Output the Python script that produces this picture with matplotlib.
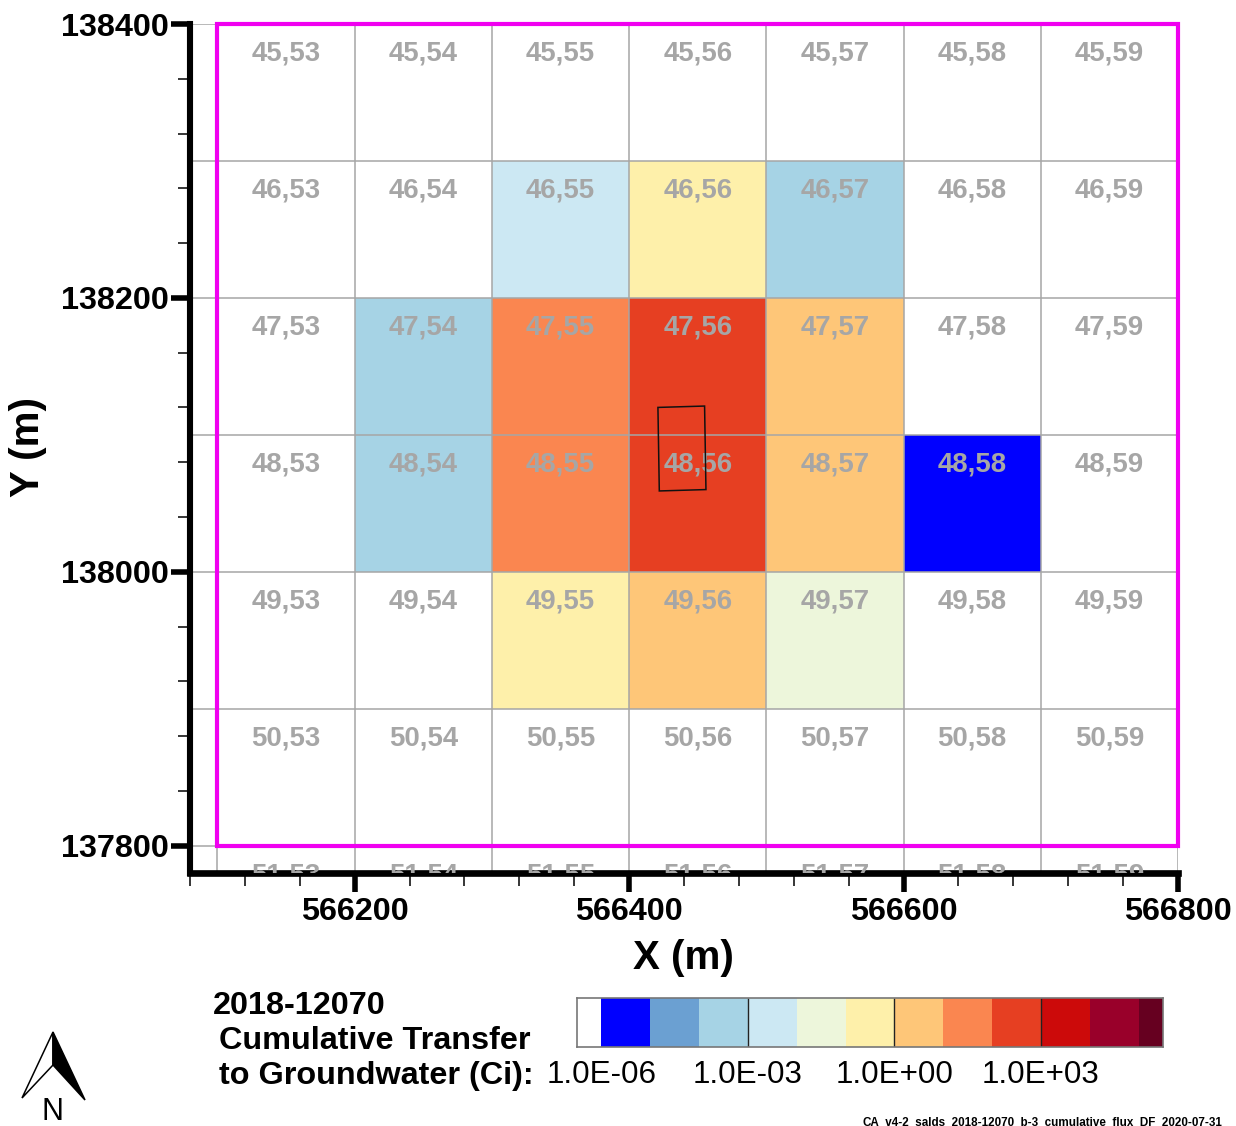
import numpy as np
import matplotlib
matplotlib.use("Agg")
import matplotlib.pyplot as plt
from matplotlib.colors import ListedColormap, BoundaryNorm
from matplotlib.patches import Polygon, Rectangle

plt.rcParams['font.family'] = ['Liberation Sans', 'DejaVu Sans']

W, H = 1236, 1126

# Data
rows = [45, 46, 47, 48, 49, 50, 51]
cols = [53, 54, 55, 56, 57, 58, 59]
x_edges = [566100, 566200, 566300, 566400, 566500, 566600, 566700, 566800]
y_edges = [138400, 138300, 138200, 138100, 138000, 137900, 137800, 137700]
# log10 of cumulative transfer (Ci), nan = below the lowest class
n = np.nan
log_values = [
    [n, n, n, n, n, n, n],
    [n, n, -2.5, -0.5, -3.5, n, n],
    [n, -3.5, 1.5, 2.5, 0.5, n, n],
    [n, -3.5, 1.5, 2.5, 0.5, -5.5, n],
    [n, n, -0.5, 0.5, -1.5, n, n],
    [n, n, n, n, n, n, n],
    [n, n, n, n, n, n, n],
]
levels = [-6.5, -6, -5, -4, -3, -2, -1, 0, 1, 2, 3, 4, 5, 5.5]
colors = ['#FFFFFF', '#0000FF', '#6BA0D2', '#A6D3E5', '#CCE8F3', '#EDF6DB', '#FEF0AA',
          '#FEC678', '#FA8650', '#E63F22', '#CC0A0A', '#99002A', '#660020']
cbar_ticks = [-6, -3, 0, 3]
cbar_labels = ['1.0E-06', '1.0E-03', '1.0E+00', '1.0E+03']
x_major = [566200, 566400, 566600, 566800]
x_minor = [566080, 566120, 566160, 566240, 566280, 566320, 566360, 566440, 566480,
           566520, 566560, 566640, 566680, 566720, 566760]
y_major = [137800, 138000, 138200, 138400]
y_minor = [137840, 137880, 137920, 137960, 138040, 138080, 138120, 138160,
           138240, 138280, 138320, 138360]
source_x = [566421, 566455, 566456, 566422]
source_y = [138120, 138121, 138060, 138059]
domain_x = [566100, 566800, 566800, 566100]
domain_y = [138400, 138400, 137800, 137800]

cmap = ListedColormap(colors)
norm = BoundaryNorm(levels, cmap.N)
GREY = '#A6A6A6'


def axes_px(left, top, right, bottom):
    return [left / W, 1 - bottom / H, (right - left) / W, (bottom - top) / H]


fig = plt.figure(figsize=(W / 100, H / 100), dpi=100, facecolor='white')

# Main map
ax = fig.add_axes(axes_px(190, 24, 1178, 873))
ax.set_xlim(566080, 566800)
ax.set_ylim(137780, 138400)
vals = np.ma.masked_invalid(np.array(log_values))
ax.pcolormesh(x_edges, y_edges, vals, cmap=cmap, norm=norm, zorder=1)
ax.vlines(x_edges, 137780, 138400, color=GREY, lw=1.1, zorder=2)
ax.hlines(y_edges[:-1], 566080, 566800, color=GREY, lw=1.1, zorder=2)

for i, r in enumerate(rows):
    for j, c in enumerate(cols):
        xc = (x_edges[j] + x_edges[j + 1]) / 2
        yc = y_edges[i] - 19.5
        ax.text(xc, yc, f'{r},{c}', color=GREY, fontsize=19.9, fontweight='bold',
                ha='center', va='center_baseline', zorder=3, clip_on=True)

ax.add_patch(Polygon(np.c_[source_x, source_y], closed=True, fill=False,
                     edgecolor='#111111', lw=1.1, zorder=4))
ax.add_patch(Polygon(np.c_[domain_x, domain_y], closed=True, fill=False,
                     edgecolor='#F000F0', lw=3, zorder=5, clip_on=False))

for s in ('top', 'right'):
    ax.spines[s].set_visible(False)
ax.spines['left'].set_linewidth(4.4)
ax.spines['bottom'].set_linewidth(4.8)
ax.spines['left'].set_capstyle('projecting')
ax.spines['bottom'].set_capstyle('projecting')
ax.set_xticks(x_major)
ax.set_xticks(x_minor, minor=True)
ax.set_yticks(y_major)
ax.set_yticks(y_minor, minor=True)
ax.set_xticklabels([str(v) for v in x_major], fontsize=23.3, fontweight='bold')
ax.set_yticklabels([str(v) for v in y_major], fontsize=23.3, fontweight='bold')
ax.tick_params(axis='x', which='major', length=14, width=4, pad=3)
ax.tick_params(axis='y', which='major', length=14, width=4, pad=1)
ax.tick_params(axis='both', which='minor', length=9, width=1.1)
fig.text(683 / W, 1 - 958 / H, 'X (m)', fontsize=29, fontweight='bold', ha='center', va='center')
fig.text(28 / W, 1 - 447 / H, 'Y (m)', fontsize=29, fontweight='bold', ha='center', va='center',
         rotation=90)

# Colour scale
cax = fig.add_axes(axes_px(577, 998, 1163, 1047))
cax.pcolormesh(levels, [0, 1], np.array([[(a + b) / 2 for a, b in zip(levels[:-1], levels[1:])]]),
               cmap=cmap, norm=norm)
cax.set_xlim(levels[0], levels[-1])
cax.set_ylim(0, 1)
cax.set_yticks([])
cax.set_xticks(cbar_ticks[1:])
cax.set_xticklabels([])
cax.tick_params(axis='x', length=0)
cax.vlines(cbar_ticks[1:], 0, 1, color='#222222', lw=1)
for s in cax.spines.values():
    s.set_edgecolor('#777777')
    s.set_linewidth(1.2)
for t, lab in zip(cbar_ticks, cbar_labels):
    px = 577 + (t - levels[0]) / (levels[-1] - levels[0]) * (1163 - 577)
    fig.text(px / W, 1 - 1075 / H, lab, fontsize=22.6, ha='center', va='center')

# Legend title
fig.text(213 / W, 1 - 1006 / H, '2018-12070', fontsize=23.3, fontweight='bold', ha='left', va='center')
fig.text(219 / W, 1 - 1041 / H, 'Cumulative Transfer', fontsize=23.3, fontweight='bold', ha='left', va='center')
fig.text(219 / W, 1 - 1076 / H, 'to Groundwater (Ci):', fontsize=23.3, fontweight='bold', ha='left', va='center')

# Footer
fig.text(1222 / W, 1 - 1126 / H, 'CA_v4-2_salds_2018-12070_b-3_cumulative_flux_DF_2020-07-31',
         fontsize=8.4, fontweight='bold', ha='right', va='baseline')

# North arrow
nax = fig.add_axes([0, 0, 1, 1], facecolor='none')
nax.set_xlim(0, W)
nax.set_ylim(H, 0)
nax.axis('off')
nax.add_patch(Polygon([(53, 1032), (22, 1098), (53, 1065)], closed=True, fc='white', ec='black', lw=1.1))
nax.add_patch(Polygon([(53, 1032), (85, 1100), (53, 1065)], closed=True, fc='black', ec='black', lw=1.1))
nax.text(52, 1112, 'N', fontsize=22, ha='center', va='center')

fig.savefig('out.png', dpi=100)
